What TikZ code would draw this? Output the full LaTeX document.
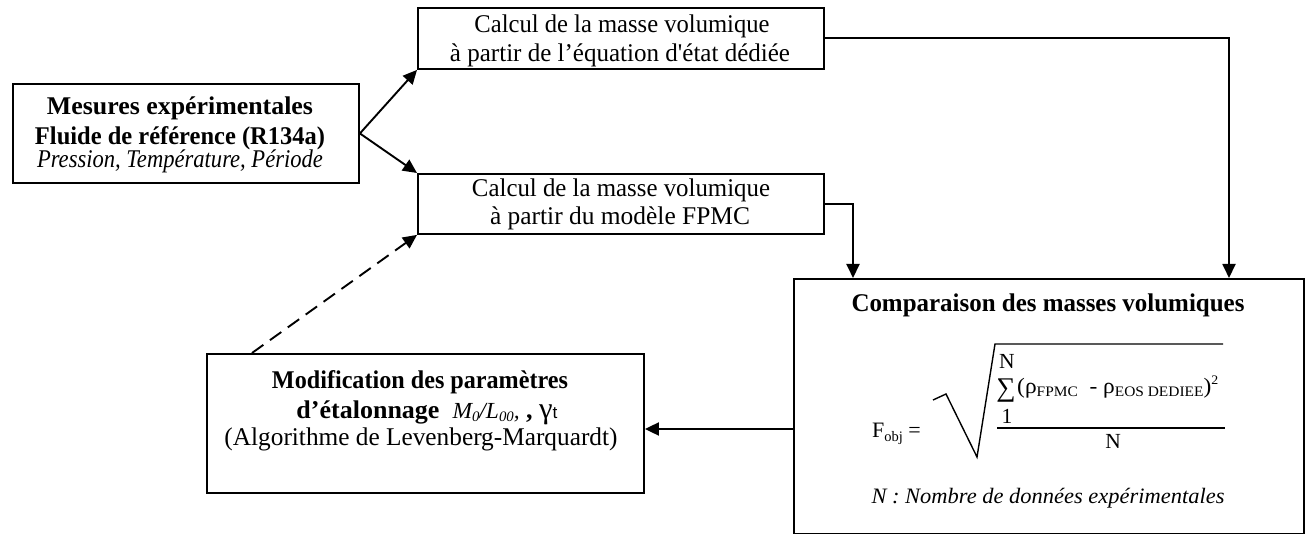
\documentclass[tikz,border=0pt]{standalone}
\usepackage{fontspec}
\usepackage{graphicx}
\setmainfont{Liberation Serif}
\setsansfont{Liberation Sans}
\usetikzlibrary{arrows.meta,calc}
\newcommand\mainsz{\fontsize{25.5}{29}\selectfont}
\newcommand\fsz{\fontsize{21.5}{24}\selectfont}
\newcommand\subsz{\fontsize{14.5}{15}\selectfont}
\newcommand\fitw[2]{\resizebox{#1pt}{\height}{#2}}
\begin{document}
\begin{tikzpicture}[x=1pt,y=-1pt,
  box/.style={draw,line width=1.9pt,inner sep=0pt,anchor=north west},
  txt/.style={inner sep=0pt,anchor=base,font=\mainsz},
  btxt/.style={inner sep=0pt,anchor=base,font=\bfseries\mainsz},
  ftxt/.style={inner sep=0pt,anchor=base,font=\fsz},
  arr/.style={line width=1.9pt,-{Triangle[length=14pt,width=13pt]}},
  darr/.style={arr,dash pattern=on 14pt off 8pt}
]
\useasboundingbox (0,0) rectangle (1306,534);
% boxes
\node[box,minimum width=346pt,minimum height=99pt] (left) at (12,83) {};
\node[box,minimum width=406pt,minimum height=61pt] (top) at (417,7) {};
\node[box,minimum width=406pt,minimum height=60pt] (mid) at (417,173) {};
\node[box,minimum width=510pt,minimum height=255pt] (comp) at (793,278) {};
\node[box,minimum width=437pt,minimum height=139pt] (mod) at (206,353) {};
% left box text
\node[btxt] (l1) at (180,115) {\fitw{266}{Mesures expérimentales}};
\node[btxt] (l2) at (180,145) {\fitw{290}{Fluide de référence (R134a)}};
\node[txt] (l3) at (180,168) {\fitw{286}{\itshape Pression, Température, Période}};
% top box text
\node[txt] (t1) at (622,33) {\fitw{295}{Calcul de la masse volumique}};
\node[txt] (t2) at (620,62) {\fitw{340}{à partir de l’équation d\textquotesingle état dédiée}};
% mid box text
\node[txt] (m1) at (621,197) {\fitw{298}{Calcul de la masse volumique}};
\node[txt] (m2) at (620,225) {\fitw{260}{à partir du modèle FPMC}};
% comparison box text
\node[btxt] (c1) at (1048,312) {\fitw{393}{Comparaison des masses volumiques}};
\node[ftxt,anchor=base west,font=\fontsize{22}{24}\selectfont] (fobj) at (872,437) {F\raisebox{-4pt}{\subsz obj} =};
\node[ftxt] (nt) at (1007,368) {N};
\node[ftxt,font=\fontsize{27}{27}\selectfont] (sum) at (1006,396) {∑};
\node[ftxt,anchor=base west,font=\fontsize{22}{24}\selectfont] (rho) at (1017,393) {\fitw{201}{(ρ\raisebox{-3pt}{\subsz FPMC}\ \ -\ ρ\raisebox{-3pt}{\subsz EOS DEDIEE})\raisebox{9pt}{\fontsize{13}{13}\selectfont 2}}};
\node[ftxt] (one) at (1007,423) {1};
\node[ftxt] (nb) at (1113,448) {N};
\draw[line width=1.4pt] (933,400) -- (946,394) -- (977,457) -- (995,344) -- (1223,344);
\draw[line width=1.4pt] (997,428) -- (1225,428);
\node[ftxt,font=\itshape\fontsize{22}{24}\selectfont] (nn) at (1048,503) {\fitw{353}{N : Nombre de données expérimentales}};
% modification box text
\node[btxt] (d1) at (420,388) {\fitw{296}{Modification des paramètres}};
\node[btxt] (d2) at (427,418) {\fitw{261}{d’étalonnage\ \ {\mdseries\itshape\fontsize{23}{24}\selectfont M\raisebox{-3pt}{\subsz 0}/L\raisebox{-3pt}{\subsz 00},}\ ,\ {\mdseries\fontsize{30}{30}\selectfont γ}{\mdseries\sffamily\fontsize{17}{17}\selectfont t}}};
\node[txt] (d3) at (421,445) {\fitw{393}{(Algorithme de Levenberg-Marquardt)}};
% connectors
\draw[arr] (left.east) -- (top.south west);
\draw[arr] (left.east) -- (mid.north west);
\coordinate (cin1) at (853,278);
\coordinate (cin2) at (1229,278);
\draw[arr] (top.east) -| (cin2);
\draw[arr] (mid.east) -| (cin1);
\draw[arr] (comp.west |- 0,429) -- (mod.east |- 0,429);
\draw[darr] ($(mod.north west)+(46,0)$) -- (mid.south west);
\end{tikzpicture}
\end{document}
